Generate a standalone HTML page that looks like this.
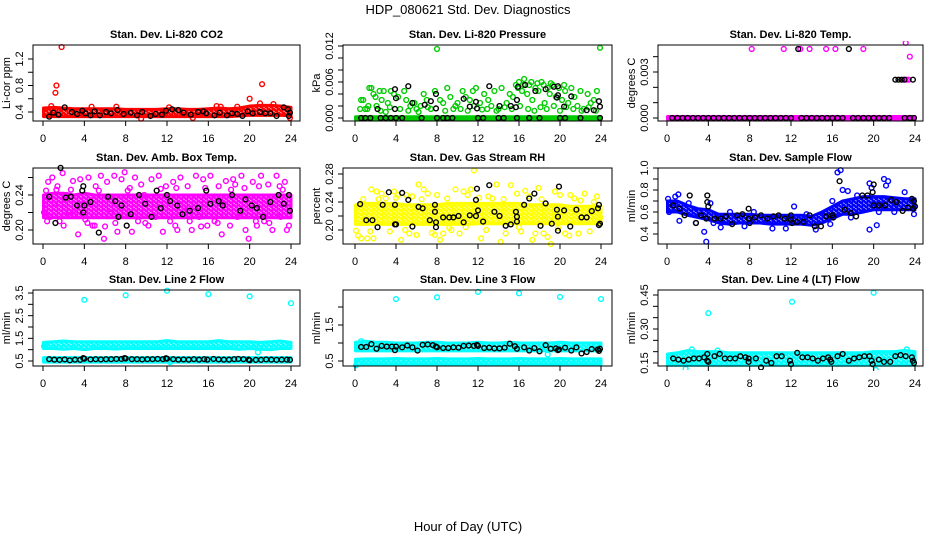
<!DOCTYPE html>
<html><head><meta charset="utf-8"><style>
html,body{margin:0;padding:0;background:#fff;}
svg{display:block;font-family:"Liberation Sans",Arial,sans-serif;}
</style></head><body>
<svg id="chart" width="936" height="540" viewBox="0 0 936 540">
<defs id="defs"></defs>
<text x="468" y="14" text-anchor="middle" font-size="13">HDP_080621 Std. Dev. Diagnostics</text>
<text x="468" y="531" text-anchor="middle" font-size="13">Hour of Day (UTC)</text>
</svg>
<script>
// ---------- data ----------
const xTicks=[0,4,8,12,16,20,24];
const hours25=[0,1,2,3,4,5,6,7,8,9,10,11,12,13,14,15,16,17,18,19,20,21,22,23,24];

// P1 CO2
const co2BandLo=[.33,.33,.33,.33,.33,.33,.33,.33,.33,.33,.33,.33,.33,.33,.33,.33,.33,.33,.33,.34,.35,.35,.35,.35,.34];
const co2BandHi=[.46,.47,.46,.45,.45,.45,.45,.45,.44,.44,.44,.44,.45,.45,.44,.44,.45,.46,.45,.46,.49,.50,.50,.49,.47];
const co2Pts=[[1.8,1.38],[1.3,.80],[1.2,.69],[21.2,.82],[20,.60],[22.3,.52],[0.8,.49],[4.7,.48],[7.1,.48],[16.8,.49],[17.2,.48],[18.8,.48],[14.5,.31],[23.9,.31],[21,.53],[12.2,.47],[9.5,.30]];
const co2Blk=[[0.6,.33],[1,.39],[1.5,.36],[2.1,.47],[2.8,.40],[3.3,.37],[3.8,.42],[4.1,.38],[4.6,.35],[5,.41],[5.5,.35],[6.1,.40],[6.6,.38],[7.2,.43],[7.8,.37],[8.5,.39],[9.1,.35],[9.6,.40],[10.4,.34],[10.9,.37],[11.5,.36],[11.9,.42],[12.5,.44],[13.1,.43],[13.6,.39],[14.3,.36],[15,.40],[15.5,.41],[15.8,.38],[16.6,.35],[17.1,.39],[17.8,.35],[18.3,.38],[18.8,.37],[19.3,.34],[19.8,.41],[20.3,.38],[21,.40],[21.5,.38],[22,.38],[22.6,.34],[23.3,.47],[23.7,.44],[23.9,.39],[23.8,.34]];

// P2 Pressure
const presBandLo=[-.0002,-.0002,-.0002,-.0002,-.0002,-.0002,-.0002,-.0002,-.0002,-.0002,-.0002,-.0002,-.0002,-.0002,-.0002,-.0002,-.0002,-.0002,-.0002,-.0002,-.0002,-.0002,-.0002,-.0002,-.0002];
const presBandHi=[.0002,.0002,.0002,.0002,.0002,.0002,.0002,.0002,.0002,.0002,.0002,.0002,.0002,.0002,.0002,.0002,.0002,.0002,.0002,.0002,.0002,.0002,.0002,.0002,.0002];
const presPts=[[0.5,.0015],[0.6,.0030],[0.8,.0030],[1.2,.0015],[1.3,.0020],[1.4,.0050],[1.6,.0050],[1.8,.0040],[2,.0035],[2.1,.0020],[2.4,.0045],[2.6,.0030],[2.8,.0045],[3,.0010],[3.2,.0025],[3.5,.0045],[3.8,.0040],[4.2,.0035],[4.4,.0015],[4.8,.0045],[5,.0030],[5.4,.0020],[5.8,.0025],[6,.0015],[6.4,.0020],[6.7,.0040],[7,.0030],[7.4,.0015],[7.8,.0045],[8,.0115],[8.3,.0030],[8.6,.0025],[9,.0050],[9.3,.0035],[9.6,.0015],[10,.0025],[10.5,.0045],[10.8,.0035],[11.2,.0030],[11.5,.0045],[11.8,.0050],[12.2,.0025],[12.6,.0040],[13,.0030],[13.3,.0020],[13.6,.0045],[14,.0015],[14.3,.0050],[14.8,.0025],[15.1,.0040],[15.4,.0035],[15.7,.0055],[16,.0060],[16.3,.0045],[16.5,.0065],[16.8,.0040],[17,.0055],[17.3,.0030],[17.6,.0050],[17.9,.0045],[18.2,.0060],[18.5,.0025],[18.8,.0050],[19,.0040],[19.3,.0055],[19.6,.0035],[19.9,.0050],[20.2,.0030],[20.5,.0045],[20.8,.0025],[21.1,.0050],[21.4,.0035],[21.7,.0020],[22,.0045],[22.3,.0015],[22.7,.0040],[23,.0025],[23.3,.0030],[23.6,.0045],[23.9,.0117],[1,.0015],[2.5,.0012],[3.4,.0018],[5.2,.0012],[6.2,.0010],[7.1,.0018],[8.8,.0012],[9.8,.0020],[10.3,.0015],[11,.0012],[11.6,.0020],[12.4,.0014],[12.9,.0015],[13.8,.0012],[14.6,.0018],[15.3,.0015],[16.1,.0020],[16.9,.0015],[17.5,.0012],[18.1,.0018],[18.7,.0015],[19.4,.0020],[20,.0012],[20.6,.0018],[21.3,.0015],[22.1,.0012],[22.8,.0018],[23.5,.0012],[16.4,.0055],[17.2,.0060],[18.4,.0055],[19.1,.0058],[20.4,.0055],[15.9,.0050],[17.8,.0058]];
const presBlk=[[0.6,0],[1,0],[1.5,0],[2.5,0],[3,0],[3.5,0],[4,0],[4.6,0],[6.5,0],[8,0],[8.6,0],[9,0],[9.5,0],[12,0],[12.5,0],[14,0],[14.5,0],[15.8,0],[17,0],[18,0],[20,0],[20.5,0],[22,0],[23.9,0],[2.2,.0015],[3.9,.0015],[3.9,.0048],[4,.0033],[5.2,.0053],[5.6,.0025],[6.8,.0022],[7.4,.0028],[7.9,.0040],[7.9,.0016],[10.6,.0032],[11.2,.0019],[11.8,.0027],[11.9,.0016],[13.1,.0053],[14.1,.0020],[15.2,.0020],[15.7,.0018],[15.8,.0030],[15.9,.0052],[16.6,.0055],[17.6,.0045],[18.6,.0048],[19.4,.0052],[19.8,.0053],[19.8,.0038],[19.7,.0034],[20.4,.0019],[21.1,.0036],[22.6,.0013],[23.3,.0013],[23.8,.0028],[23.9,.0019]];

// P3 Li-820 Temp
const tempBandLo=[-.0001,-.0001,-.0001,-.0001,-.0001,-.0001,-.0001,-.0001,-.0001,-.0001,-.0001,-.0001,-.0001,-.0001,-.0001,-.0001,-.0001,-.0001,-.0001,-.0001,-.0001,-.0001,-.0001,-.0001,-.0001];
const tempBandHi=[.0001,.0001,.0001,.0001,.0001,.0001,.0001,.0001,.0001,.0001,.0001,.0001,.0001,.0001,.0001,.0001,.0001,.0001,.0001,.0001,.0001,.0001,.0001,.0001,.0001];
const tempPts=[[8.2,.0045],[11.3,.0045],[12.9,.0045],[13.8,.0045],[15.4,.0045],[16.3,.0045],[19,.0045],[23.1,.0049],[23.5,.0040],[22.9,.0025],[23.2,.0025],[23.4,.0025]];
const tempBlk=[[0.5,0],[1,0],[1.5,0],[2,0],[2.5,0],[3,0],[3.5,0],[4,0],[4.5,0],[5,0],[5.5,0],[6,0],[6.5,0],[7,0],[7.5,0],[8,0],[8.5,0],[9,0],[9.5,0],[10,0],[10.5,0],[11,0],[11.5,0],[12,0],[13,0],[13.5,0],[14,0],[14.5,0],[15,0],[15.5,0],[16,0],[16.5,0],[17,0],[18,0],[18.5,0],[19,0],[19.5,0],[20,0],[20.5,0],[21,0],[21.5,0],[23,0],[23.5,0],[23.9,0],[12.7,.0045],[17.6,.0045],[22.1,.0025],[22.4,.0025],[22.7,.0025],[23,.0025],[23.8,.0025]];

// P4 Amb box temp
const ambBandLo=[.214,.214,.214,.214,.214,.214,.214,.214,.214,.214,.214,.214,.214,.214,.214,.214,.214,.214,.214,.214,.214,.214,.214,.214,.214];
const ambBandHi=[.240,.242,.242,.240,.242,.240,.240,.240,.240,.240,.240,.240,.240,.240,.240,.240,.240,.240,.240,.240,.240,.240,.240,.240,.240];
const ambPts=[[0.1,.22],[0.3,.245],[0.5,.255],[0.7,.215],[0.9,.26],[1.1,.23],[1.4,.25],[1.6,.21],[1.9,.265],[2.3,.24],[2.5,.22],[2.9,.256],[3.1,.218],[3.4,.195],[3.6,.258],[4.1,.212],[4.4,.26],[4.8,.205],[5.1,.25],[5.6,.262],[5.9,.19],[6.2,.255],[6.6,.22],[6.9,.262],[7.2,.198],[7.6,.258],[7.9,.266],[8.2,.245],[8.6,.198],[8.9,.26],[9.2,.21],[9.5,.252],[9.8,.24],[10.2,.205],[10.5,.258],[10.9,.215],[11.2,.262],[11.6,.198],[11.9,.25],[12.3,.21],[12.6,.255],[13,.2],[13.3,.26],[13.7,.222],[14,.25],[14.4,.2],[14.8,.262],[15.1,.215],[15.5,.258],[15.9,.205],[16.2,.262],[16.6,.21],[17,.25],[17.3,.195],[17.7,.256],[18.1,.205],[18.4,.258],[18.8,.215],[19.2,.262],[19.6,.2],[19.9,.19],[20.3,.255],[20.7,.205],[21.1,.262],[21.4,.21],[21.8,.252],[22.2,.2],[22.6,.262],[23,.215],[23.4,.255],[23.8,.205],[23.6,.2],[6,.204],[5,.205],[2,.205],[12.8,.205],[15.3,.204],[18.6,.252],[20.9,.25],[22.9,.25],[0.4,.21],[1.3,.246],[2.7,.246],[4.3,.208],[5.4,.245],[7,.208],[8.4,.248],[9.9,.208],[11.4,.247],[12.9,.248],[14.2,.21],[15.7,.248],[16.9,.208],[18.2,.246],[19.5,.248],[20.6,.21],[21.9,.208],[23.2,.246]];
const ambBlk=[[0.6,.238],[1.2,.208],[1.7,.271],[2.2,.237],[2.7,.238],[3.3,.228],[3.8,.245],[3.9,.250],[3.9,.220],[4,.228],[4.6,.232],[5.4,.197],[6.3,.238],[7,.233],[7.3,.215],[7.6,.228],[8.1,.205],[8.5,.218],[9.3,.240],[9.9,.230],[10.5,.215],[11,.245],[11.4,.225],[12,.240],[12.3,.233],[13,.228],[13.5,.218],[14.2,.222],[15,.225],[15.8,.245],[16.2,.230],[17,.233],[17.4,.228],[18.3,.240],[19.1,.222],[19.6,.235],[20.2,.228],[20.7,.225],[21.3,.215],[22,.232],[22.8,.240],[23.3,.230],[23.8,.240],[23.9,.222]];

// P5 Gas stream RH
const rhBandLo=[.208,.208,.208,.208,.208,.208,.208,.208,.208,.208,.208,.208,.209,.209,.209,.209,.209,.209,.209,.209,.209,.209,.209,.209,.209];
const rhBandHi=[.236,.238,.238,.238,.238,.236,.236,.236,.236,.238,.238,.238,.238,.238,.238,.238,.238,.236,.236,.236,.236,.234,.234,.234,.234];
const rhPts=[[0.1,.199],[0.3,.192],[0.6,.188],[0.9,.215],[1.2,.188],[1.5,.198],[1.8,.188],[2.1,.255],[1.6,.258],[2.6,.252],[3,.245],[3.4,.198],[3.8,.255],[4.2,.250],[4.5,.186],[4.9,.200],[5.3,.195],[5.6,.248],[6,.193],[6.2,.265],[6.7,.258],[7.1,.252],[7.5,.196],[7.8,.193],[8.3,.186],[8.6,.195],[9,.245],[9.4,.200],[9.8,.258],[10.2,.195],[10.6,.255],[11,.250],[11.3,.258],[11.6,.285],[12.3,.188],[12.8,.200],[13.4,.245],[13.8,.265],[14.2,.183],[14.7,.195],[15.2,.264],[15.8,.252],[16.2,.198],[16.6,.256],[17,.248],[17.3,.186],[17.9,.260],[18.4,.195],[18.8,.190],[19.1,.180],[19.5,.255],[20,.250],[20.5,.195],[20.9,.192],[21.4,.245],[21.8,.195],[22.4,.252],[22.9,.198],[23.3,.240],[23.6,.248],[23.9,.218],[5,.25],[8,.25],[13,.248],[17.6,.195],[21,.25],[0.8,.244],[2.3,.244],[4,.246],[6.5,.244],[9.2,.203],[10.8,.204],[12.1,.246],[14.5,.244],[16,.204],[18.2,.244],[19.8,.203],[22,.242]];
const rhBlk=[[0.5,.237],[1.1,.214],[1.7,.214],[2.2,.204],[2.7,.236],[3.3,.254],[3.9,.236],[3.9,.208],[4,.208],[4.6,.253],[5.2,.243],[5.6,.205],[6.2,.233],[6.6,.231],[7.3,.214],[7.8,.236],[7.8,.226],[7.9,.211],[7.9,.204],[8.6,.218],[9.2,.218],[9.6,.218],[10.1,.220],[10.6,.211],[11.2,.221],[11.8,.220],[11.9,.259],[11.8,.243],[12,.228],[12.5,.212],[13.1,.264],[13.6,.226],[14.1,.220],[14.7,.206],[15.2,.208],[15.7,.226],[15.8,.219],[15.8,.212],[16.5,.236],[17,.245],[17.5,.252],[18.1,.206],[18.6,.238],[19.2,.209],[19.7,.229],[19.8,.199],[19.8,.219],[19.9,.262],[20.4,.228],[21,.205],[21.6,.229],[22.1,.218],[22.6,.218],[23.1,.227],[23.8,.236],[23.7,.231],[23.8,.207],[23.9,.209]];

// P6 Sample flow
const flowBandLo=[.60,.60,.57,.55,.53,.50,.49,.50,.50,.50,.49,.49,.49,.49,.48,.50,.54,.58,.58,.60,.62,.62,.62,.62,.62];
const flowBandHi=[.70,.70,.66,.63,.62,.58,.58,.58,.58,.57,.57,.57,.57,.57,.56,.60,.65,.70,.72,.74,.74,.74,.73,.72,.72];
const flowPts=[[0.1,.72],[0.2,.60],[0.8,.74],[1.2,.52],[1.1,.76],[2.1,.68],[2.8,.50],[3.6,.42],[3.8,.33],[4.2,.68],[4.5,.50],[5.2,.46],[6.1,.60],[7.5,.47],[8.4,.60],[10.2,.45],[11.5,.45],[12.3,.65],[13.5,.58],[14.4,.44],[15.8,.49],[16,.70],[16.5,.96],[16.8,.98],[17,.80],[17.5,.79],[17.8,.55],[18.4,.75],[19.6,.44],[19.6,.86],[19.8,.82],[20.3,.48],[20.5,.60],[21,.90],[21.2,.84],[21.4,.88],[22,.60],[23,.78],[23.9,.58]];
const flowBlk=[[0.6,.66],[1.2,.63],[1.7,.57],[2.2,.75],[2.8,.50],[3.3,.57],[3.8,.54],[3.9,.75],[3.9,.69],[4,.65],[4.6,.54],[5.2,.54],[5.7,.56],[6.3,.49],[6.8,.57],[7.3,.58],[7.9,.63],[7.9,.54],[8,.50],[8.5,.55],[9.1,.57],[9.7,.54],[10.3,.56],[10.8,.57],[11.4,.54],[12,.57],[12,.53],[12.1,.50],[12.6,.51],[13.2,.51],[13.8,.57],[14.3,.47],[14.9,.47],[15.4,.56],[16,.57],[16.1,.55],[16.7,.88],[17.2,.62],[17.8,.59],[18.3,.56],[18.9,.75],[19.4,.75],[19.9,.78],[20,.85],[20,.66],[20.5,.66],[21.1,.66],[21.7,.71],[22.2,.69],[22.8,.61],[23.3,.64],[23.7,.72],[23.9,.70],[24,.65],[23.8,.63]];

// P7 Line 2 flow
const l2BandLo=[1.05,1.05,1.02,1.05,1.0,1.05,1.05,1.03,1.05,1.05,1.05,1.05,1.05,1.05,1.05,1.05,1.05,1.05,1.05,1.02,1.05,1.02,1.0,1.05,1.05];
const l2BandHi=[1.32,1.35,1.38,1.35,1.35,1.35,1.35,1.35,1.35,1.35,1.35,1.35,1.40,1.35,1.35,1.35,1.35,1.40,1.35,1.35,1.35,1.32,1.35,1.38,1.32];
const l2LowLo=[.45,.45,.45,.45,.45,.45,.45,.45,.45,.45,.45,.45,.45,.45,.45,.45,.45,.45,.45,.45,.45,.45,.45,.45,.45];
const l2LowHi=[.65,.65,.65,.65,.65,.65,.65,.65,.65,.65,.65,.65,.65,.65,.65,.65,.65,.65,.65,.65,.65,.65,.65,.65,.65];
const l2Pts=[[4,3.2],[8,3.4],[12,3.6],[16,3.45],[20,3.35],[24,3.05],[20.8,.88],[12.3,.45],[0.1,1.15]];
const l2Blk=[[0.6,.58],[1.1,.56],[1.6,.55],[2.1,.57],[2.6,.53],[3.1,.56],[3.6,.55],[3.9,.63],[4,.60],[4.6,.57],[5.1,.58],[5.6,.57],[6.1,.58],[6.6,.58],[7.1,.59],[7.6,.59],[7.9,.63],[8,.61],[8.6,.58],[9.1,.58],[9.6,.57],[10.1,.58],[10.6,.58],[11.1,.59],[11.6,.58],[11.9,.62],[12,.60],[12.6,.58],[13.1,.56],[13.6,.57],[14.1,.56],[14.6,.58],[15.1,.56],[15.6,.58],[15.9,.56],[16.5,.59],[17,.57],[17.5,.56],[18,.56],[18.5,.58],[18.9,.59],[19.4,.58],[19.9,.56],[20,.53],[20.6,.55],[21.1,.55],[21.6,.57],[22.1,.56],[22.6,.55],[23.1,.56],[23.6,.56],[23.9,.55]];

// P8 Line 3 flow
const l3BandLo=[.78,.78,.78,.78,.78,.78,.78,.78,.78,.78,.78,.78,.78,.78,.78,.78,.78,.78,.78,.78,.78,.78,.78,.78,.78];
const l3BandHi=[1.02,1.05,1.02,1.02,1.0,1.0,1.0,1.02,1.02,1.0,1.0,1.0,1.02,1.0,1.0,1.02,1.0,1.0,1.0,1.0,1.02,1.0,1.0,1.0,1.0];
const l3LowLo=[.38,.40,.40,.40,.40,.40,.40,.40,.40,.40,.40,.40,.40,.40,.40,.40,.40,.40,.40,.40,.40,.40,.40,.40,.40];
const l3LowHi=[.55,.56,.56,.56,.57,.56,.56,.56,.57,.56,.56,.56,.57,.56,.56,.56,.57,.56,.56,.56,.57,.56,.56,.56,.56];
const l3Pts=[[4,2.22],[8,2.27],[12,2.42],[16,2.38],[20,2.28],[24,2.22],[18.8,.68],[0.6,1.05],[0.1,.38]];
const l3Blk=[[0.6,.89],[1.1,.89],[1.6,.97],[2.1,.84],[2.6,.92],[3.1,.90],[3.6,.90],[3.9,.80],[4,.90],[4.6,.88],[5.1,.93],[5.6,.88],[6.1,.79],[6.6,.95],[7.1,.96],[7.6,.94],[7.9,.90],[8,.88],[8.6,.86],[9.1,.86],[9.6,.88],[10.1,.87],[10.6,.92],[11.1,.93],[11.6,.92],[11.9,.95],[12,.92],[12.6,.86],[13.1,.87],[13.6,.85],[14.1,.85],[14.6,.87],[15.1,.98],[15.6,.91],[15.8,.84],[16.5,.88],[17,.79],[17.5,.86],[18,.77],[18.6,.94],[19.1,.84],[19.6,.85],[19.8,.80],[19.9,.82],[20.5,.87],[21.1,.79],[21.6,.88],[22.1,.71],[22.6,.75],[23.1,.83],[23.7,.82],[23.8,.78],[23.9,.84]];

// P9 Line 4 flow
const l4BandLo=[.14,.14,.14,.14,.14,.14,.14,.14,.14,.14,.14,.14,.14,.14,.14,.14,.14,.14,.14,.14,.14,.14,.14,.14,.14];
const l4BandHi=[.19,.195,.205,.20,.20,.20,.195,.195,.195,.195,.195,.195,.195,.195,.195,.195,.195,.195,.195,.195,.20,.20,.20,.205,.20];
const l4Pts=[[4,.37],[12.1,.42],[20,.46],[20.2,.12],[2.4,.21],[1.8,.125],[23.2,.21],[4.9,.205]];
const l4Blk=[[0.6,.17],[1.1,.165],[1.6,.16],[2.1,.165],[2.6,.17],[3.1,.17],[3.6,.175],[3.9,.19],[3.9,.16],[4,.155],[4.6,.18],[5.1,.19],[5.6,.17],[6.1,.17],[6.6,.17],[7.1,.18],[7.6,.175],[7.9,.17],[7.9,.155],[8.6,.17],[9.1,.13],[9.6,.16],[10.1,.15],[10.6,.18],[11.1,.18],[11.9,.16],[12,.145],[12.6,.195],[13.1,.175],[13.6,.175],[14.1,.17],[14.6,.16],[15.1,.17],[15.6,.175],[15.8,.165],[15.9,.155],[16.5,.18],[17,.19],[17.6,.16],[18.1,.17],[18.6,.175],[19.1,.18],[19.6,.18],[19.8,.16],[19.9,.145],[20.5,.165],[21,.155],[21.6,.155],[22.1,.18],[22.6,.185],[23.1,.18],[23.7,.175],[23.8,.16],[23.9,.15]];

// y-axis ticks / labels
const co2Ticks=[0.4,0.6,0.8,1.0,1.2], co2Labels=["0.4","0.8","1.2"];
const presTicks=[0,.002,.004,.006,.008,.010,.012], presLabels=["0.000","0.006","0.012"];
const tempTicks=[0,.001,.002,.003,.004], tempLabels=["0.000","0.003"];
const ambTicks=[.20,.22,.24,.26], ambLabels=["0.20","0.24"];
const rhTicks=[.20,.22,.24,.26,.28], rhLabels=["0.20","0.24","0.28"];
const flowTicks=[.4,.5,.6,.7,.8,.9,1.0], flowLabels=["0.4","0.6","0.8","1.0"];
const l2Ticks=[.5,1,1.5,2,2.5,3,3.5], l2Labels=["0.5","1.5","2.5","3.5"];
const l3Ticks=[.5,1,1.5,2], l3Labels=["0.5","1.5"];
const l4Ticks=[.15,.20,.25,.30,.35,.40,.45], l4Labels=["0.15","0.30","0.45"];

// ---------- layout ----------
const cols=[{bl:33,br:300,x0:43,xw:248},{bl:343,br:612,x0:355,xw:246},{bl:658,br:923,x0:667,xw:248}];
const rows=[{bt:45,bb:121},{bt:168,bb:244},{bt:290,bb:366}];
const panels=[
 {id:"co2",title:"Stan. Dev. Li-820 CO2",ylab:"Li-cor ppm",c:0,r:0,cal:[0.4,112,1.2,59],color:"#ff0000",bands:[[co2BandLo,co2BandHi]],pts:co2Pts,blk:co2Blk,ticks:co2Ticks,labels:co2Labels},
 {id:"pressure",title:"Stan. Dev. Li-820 Pressure",ylab:"kPa",c:1,r:0,cal:[0,118,0.012,46],color:"#00cc00",bands:[[presBandLo,presBandHi]],pts:presPts,blk:presBlk,ticks:presTicks,labels:presLabels},
 {id:"temp",title:"Stan. Dev. Li-820 Temp.",ylab:"degrees C",c:2,r:0,cal:[0,118,0.003,72],color:"#ff00ff",bands:[[tempBandLo,tempBandHi]],pts:tempPts,blk:tempBlk,ticks:tempTicks,labels:tempLabels},
 {id:"ambtemp",title:"Stan. Dev. Amb. Box Temp.",ylab:"degrees C",c:0,r:1,cal:[0.20,230,0.24,195],color:"#ff00ff",bands:[[ambBandLo,ambBandHi]],pts:ambPts,blk:ambBlk,ticks:ambTicks,labels:ambLabels},
 {id:"rh",title:"Stan. Dev. Gas Stream RH",ylab:"percent",c:1,r:1,cal:[0.20,230,0.28,174],color:"#ffff00",bands:[[rhBandLo,rhBandHi]],pts:rhPts,blk:rhBlk,ticks:rhTicks,labels:rhLabels},
 {id:"sampleflow",title:"Stan. Dev. Sample Flow",ylab:"ml/min",c:2,r:1,cal:[0.4,234,1.0,168],color:"#0000ff",bands:[[flowBandLo,flowBandHi]],pts:flowPts,blk:flowBlk,ticks:flowTicks,labels:flowLabels},
 {id:"line2",title:"Stan. Dev. Line 2 Flow",ylab:"ml/min",c:0,r:2,cal:[0.5,361,3.5,293],color:"#00ffff",bands:[[l2BandLo,l2BandHi],[l2LowLo,l2LowHi]],pts:l2Pts,blk:l2Blk,ticks:l2Ticks,labels:l2Labels},
 {id:"line3",title:"Stan. Dev. Line 3 Flow",ylab:"ml/min",c:1,r:2,cal:[0.5,361,1.5,325],color:"#00ffff",bands:[[l3BandLo,l3BandHi],[l3LowLo,l3LowHi]],pts:l3Pts,blk:l3Blk,ticks:l3Ticks,labels:l3Labels},
 {id:"line4",title:"Stan. Dev. Line 4 (LT) Flow",ylab:"ml/min",c:2,r:2,cal:[0.15,363,0.45,295],color:"#00ffff",bands:[[l4BandLo,l4BandHi]],pts:l4Pts,blk:l4Blk,ticks:l4Ticks,labels:l4Labels}
];

const NS="http://www.w3.org/2000/svg";
const svg=document.getElementById("chart");
const defs=document.getElementById("defs");
function mk(tag,attrs,parent){const e=document.createElementNS(NS,tag);for(const k in attrs)e.setAttribute(k,attrs[k]);parent.appendChild(e);return e;}

panels.forEach(p=>{
 const C=cols[p.c],R=rows[p.r];
 const xs=h=>C.x0+h*C.xw/24;
 const ys=v=>p.cal[1]+(v-p.cal[0])*(p.cal[3]-p.cal[1])/(p.cal[2]-p.cal[0]);
 const pat=mk("pattern",{id:"pat-"+p.id,patternUnits:"userSpaceOnUse",width:5,height:4},defs);
 [[1.2,1],[3.7,3],[6.2,1],[-1.3,3],[1.2,5],[3.7,-1]].forEach(c=>mk("circle",{cx:c[0],cy:c[1],r:2,fill:"none",stroke:p.color,"stroke-width":1.8},pat));
 const g=mk("g",{},svg);
 
 
 const clip=mk("clipPath",{id:"clip-"+p.id},g);
 mk("rect",{x:C.bl,y:R.bt-4,width:C.br-C.bl,height:R.bb-R.bt+8},clip);
 const marks=mk("g",{"clip-path":"url(#clip-"+p.id+")"},g);
 
 
 p.bands.forEach((b,bi)=>{
  const lo=b[0],hi=b[1];
  let pts=[];
  hours25.forEach((h,i)=>pts.push(xs(Math.max(h,0.05))+","+ys(hi[i])));
  for(let i=hours25.length-1;i>=0;i--)pts.push(xs(Math.max(hours25[i],0.05))+","+ys(lo[i]));
  const poly=mk("polygon",{points:pts.join(" "),fill:"url(#pat-"+p.id+")",stroke:p.color,"stroke-width":3,"stroke-linejoin":"round"},marks);
  
  
 });
 p.pts.forEach(d=>{
  const c=mk("circle",{cx:xs(d[0]),cy:ys(d[1]),r:2.4,fill:"none",stroke:p.color,"stroke-width":1.4},marks);
  
  
 });
 p.blk.forEach(d=>{
  const c=mk("circle",{cx:xs(d[0]),cy:ys(d[1]),r:2.4,fill:"none",stroke:"#000","stroke-width":1.4},marks);
  
  
 });
 const box=mk("rect",{x:C.bl,y:R.bt,width:C.br-C.bl,height:R.bb-R.bt,fill:"none",stroke:"#000","stroke-width":1},g);
 
 
 const t=mk("text",{x:(C.bl+C.br)/2,y:R.bt-7,"text-anchor":"middle","font-size":11,"font-weight":"bold"},g);
 t.textContent=p.title;
 
 
 const xa=mk("g",{},g);
 
 
 mk("line",{x1:xs(0),x2:xs(24),y1:R.bb,y2:R.bb,stroke:"#000"},xa);
 xTicks.forEach(h=>{
  mk("line",{x1:xs(h),x2:xs(h),y1:R.bb,y2:R.bb+5,stroke:"#000"},xa);
  const l=mk("text",{x:xs(h),y:R.bb+21,"text-anchor":"middle","font-size":11},xa);
  l.textContent=String(h);
  
  
 });
 const ya=mk("g",{},g);
 
 
 p.ticks.forEach(v=>{
  mk("line",{x1:C.bl-5,x2:C.bl,y1:ys(v),y2:ys(v),stroke:"#000"},ya);
 });
 p.labels.forEach(s=>{
  const v=parseFloat(s), yy=ys(v), xx=C.bl-10;
  const l=mk("text",{x:xx,y:yy,"text-anchor":"middle","font-size":11,transform:"rotate(-90 "+xx+" "+yy+")"},ya);
  l.textContent=s;
  
  
 });
 const yc=(R.bt+R.bb)/2, xl=C.bl-23;
 const yl=mk("text",{x:xl,y:yc,"text-anchor":"middle","font-size":11,transform:"rotate(-90 "+xl+" "+yc+")"},g);
 yl.textContent=p.ylab;
 
 
});
</script>
</body></html>
